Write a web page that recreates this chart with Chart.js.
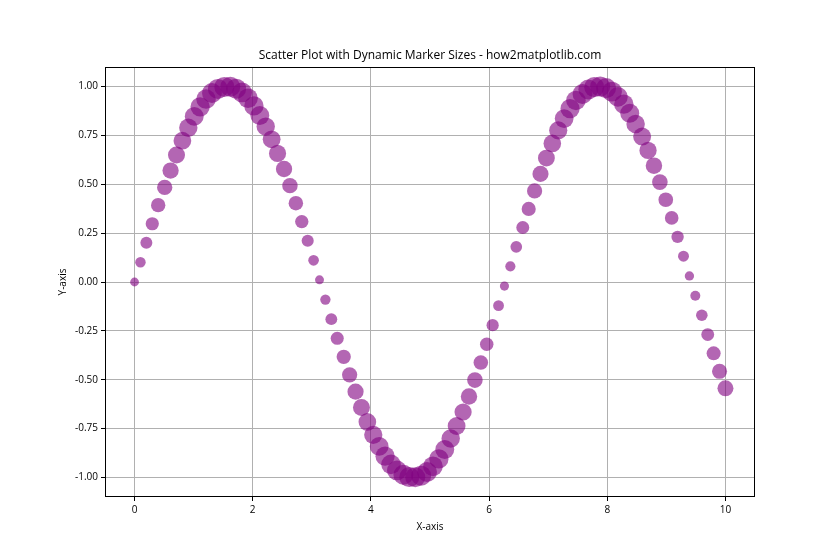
<!DOCTYPE html>
<html>
<head>
<meta charset="utf-8">
<script src="https://cdn.jsdelivr.net/npm/chart.js@4.4.0/dist/chart.umd.min.js"></script>
<style>
    html, body { margin: 0; padding: 0; background: #fff; }
    #wrap { width: 840px; height: 560px; }
</style>
</head>
<body>
<div id="wrap"><canvas id="scatterChart" width="840" height="560"></canvas></div>
<script>
const xValues = [
    0.00, 0.10, 0.20, 0.30, 0.40, 0.51, 0.61, 0.71, 0.81, 0.91,
    1.01, 1.11, 1.21, 1.31, 1.41, 1.52, 1.62, 1.72, 1.82, 1.92,
    2.02, 2.12, 2.22, 2.32, 2.42, 2.53, 2.63, 2.73, 2.83, 2.93,
    3.03, 3.13, 3.23, 3.33, 3.43, 3.54, 3.64, 3.74, 3.84, 3.94,
    4.04, 4.14, 4.24, 4.34, 4.44, 4.55, 4.65, 4.75, 4.85, 4.95,
    5.05, 5.15, 5.25, 5.35, 5.45, 5.56, 5.66, 5.76, 5.86, 5.96,
    6.06, 6.16, 6.26, 6.36, 6.46, 6.57, 6.67, 6.77, 6.87, 6.97,
    7.07, 7.17, 7.27, 7.37, 7.47, 7.58, 7.68, 7.78, 7.88, 7.98,
    8.08, 8.18, 8.28, 8.38, 8.48, 8.59, 8.69, 8.79, 8.89, 8.99,
    9.09, 9.19, 9.29, 9.39, 9.49, 9.60, 9.70, 9.80, 9.90, 10.00
];
const yValues = [
    0.000, 0.101, 0.201, 0.298, 0.393, 0.484, 0.570, 0.650, 0.723, 0.789,
    0.847, 0.896, 0.936, 0.967, 0.988, 0.998, 0.999, 0.989, 0.970, 0.940,
    0.901, 0.852, 0.795, 0.730, 0.658, 0.578, 0.493, 0.403, 0.309, 0.211,
    0.111, 0.011, -0.090, -0.190, -0.288, -0.383, -0.475, -0.561, -0.642, -0.716,
    -0.782, -0.841, -0.891, -0.933, -0.964, -0.986, -0.998, -0.999, -0.991, -0.972,
    -0.943, -0.905, -0.857, -0.801, -0.737, -0.665, -0.586, -0.502, -0.412, -0.318,
    -0.221, -0.121, -0.021, 0.080, 0.180, 0.279, 0.374, 0.466, 0.553, 0.634,
    0.709, 0.776, 0.836, 0.887, 0.929, 0.962, 0.985, 0.997, 1.000, 0.992,
    0.974, 0.947, 0.910, 0.863, 0.808, 0.744, 0.673, 0.595, 0.511, 0.421,
    0.328, 0.231, 0.132, 0.031, -0.070, -0.170, -0.269, -0.365, -0.457, -0.544
];
const xTicks = [0, 2, 4, 6, 8, 10];
const yTicks = [-1.00, -0.75, -0.50, -0.25, 0.00, 0.25, 0.50, 0.75, 1.00];
const titleText = 'Scatter Plot with Dynamic Marker Sizes - how2matplotlib.com';

const fontFamily = '"Open Sans", "Noto Sans", sans-serif';

// marker area grows with |y| (matplotlib s in pt^2 -> radius in px)
function markerRadius(ctx) {
    let v = ctx.raw ? Math.abs(ctx.raw.y) : 0;
    return Math.sqrt(40 + 170 * v) / 2 * 100 / 72;
}

// axes frame + title centred over the plot area, like matplotlib
const frame = {
    id: 'frame',
    afterDatasetsDraw(chart) {
        let a = chart.chartArea;
        let c = chart.ctx;
        c.save();
        c.strokeStyle = '#000';
        c.lineWidth = 1;
        c.strokeRect(Math.round(a.left) + 0.5, Math.round(a.top) + 0.5,
            Math.round(a.right - a.left) - 1, Math.round(a.bottom - a.top) - 1);
        c.fillStyle = '#000';
        c.font = '12px ' + fontFamily;
        c.textAlign = 'center';
        c.textBaseline = 'middle';
        c.fillText(titleText, (a.left + a.right) / 2, a.top - 11);
        c.restore();
    }
};

new Chart(document.getElementById('scatterChart').getContext('2d'), {
    type: 'scatter',
    data: {
        datasets: [{
            data: xValues.map((x, i) => ({ x: x, y: yValues[i] })),
            backgroundColor: 'rgba(128, 0, 128, 0.6)',
            borderWidth: 0,
            pointRadius: markerRadius,
            pointHoverRadius: markerRadius
        }]
    },
    options: {
        responsive: false,
        animation: false,
        layout: { padding: { left: 0, right: 85, top: 67, bottom: 0 } },
        plugins: {
            legend: { display: false },
            tooltip: { enabled: false },
            title: { display: false }
        },
        scales: {
            x: {
                type: 'linear',
                min: -0.5,
                max: 10.5,
                afterBuildTicks: s => { s.ticks = xTicks.map(v => ({ value: v })); },
                afterFit: s => { s.height = 63; },
                grid: { color: '#b0b0b0', tickColor: '#000', tickLength: 4 },
                border: { display: false },
                ticks: {
                    color: '#000',
                    padding: 3,
                    maxRotation: 0,
                    font: { family: fontFamily, size: 10 },
                    callback: v => String(v)
                },
                title: {
                    display: true,
                    text: 'X-axis',
                    color: '#000',
                    font: { family: fontFamily, size: 10 },
                    padding: { top: 2, bottom: 27 }
                }
            },
            y: {
                type: 'linear',
                min: -1.1,
                max: 1.1,
                afterBuildTicks: s => { s.ticks = yTicks.map(v => ({ value: v })); },
                afterFit: s => { s.width = 105; },
                grid: { color: '#b0b0b0', tickColor: '#000', tickLength: 4 },
                border: { display: false },
                ticks: {
                    color: '#000',
                    padding: 3,
                    font: { family: fontFamily, size: 10 },
                    callback: v => v.toFixed(2)
                },
                title: {
                    display: true,
                    text: 'Y-axis',
                    color: '#000',
                    font: { family: fontFamily, size: 10 },
                    padding: { top: 57, bottom: 0 }
                }
            }
        }
    },
    plugins: [frame]
});
</script>
</body>
</html>
